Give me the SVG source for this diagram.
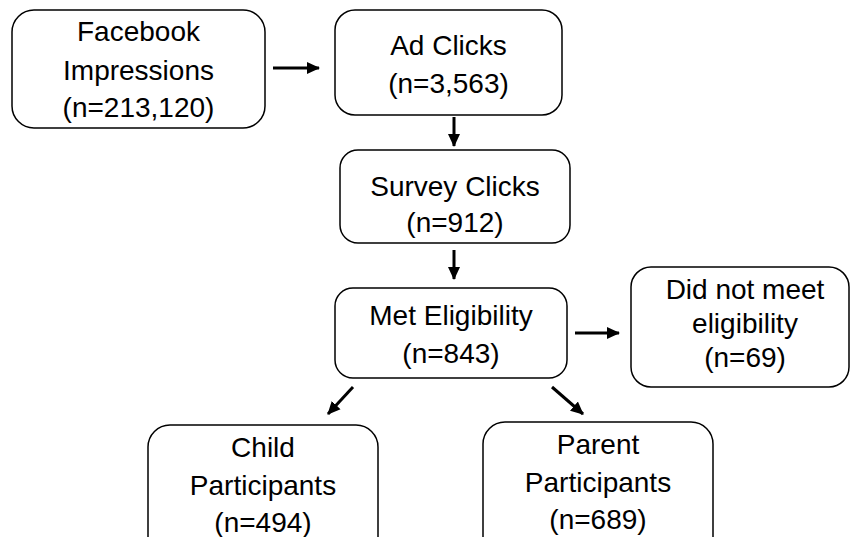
<svg xmlns="http://www.w3.org/2000/svg" width="851" height="537" viewBox="0 0 851 537">
<style>
.box{fill:#fff;stroke:#000;stroke-width:1.5}
.t{font-family:"Liberation Sans",Arial,sans-serif;font-size:28px;fill:#000;text-anchor:middle}
.c{stroke:#000;stroke-width:3;fill:none}
</style>
<defs>
<marker id="ah" markerUnits="userSpaceOnUse" markerWidth="14" markerHeight="14" refX="12" refY="7" orient="auto">
<path d="M0,1 L13,7 L0,13 Z" fill="#000"/>
</marker>
</defs>
<rect width="851" height="537" fill="#fff"/>
<g id="connectors">
<line class="c" x1="273" y1="68" x2="319" y2="68" marker-end="url(#ah)"/>
<line class="c" x1="454" y1="117" x2="454" y2="146" marker-end="url(#ah)"/>
<line class="c" x1="454" y1="250" x2="454" y2="279" marker-end="url(#ah)"/>
<line class="c" x1="575" y1="333" x2="619" y2="333" marker-end="url(#ah)"/>
<line class="c" x1="353" y1="387" x2="328" y2="414" marker-end="url(#ah)"/>
<line class="c" x1="552" y1="387" x2="583" y2="414" marker-end="url(#ah)"/>
</g>
<g id="facebook">
<rect class="box" x="12" y="10" width="253" height="118" rx="22"/>
<text class="t" x="138.5" y="41">Facebook</text>
<text class="t" x="138.5" y="80">Impressions</text>
<text class="t" x="138.5" y="117">(n=213,120)</text>
</g>
<g id="adclicks">
<rect class="box" x="335" y="10" width="227" height="105" rx="20"/>
<text class="t" x="448.5" y="55">Ad Clicks</text>
<text class="t" x="448.5" y="93">(n=3,563)</text>
</g>
<g id="surveyclicks">
<rect class="box" x="340" y="150" width="230" height="93" rx="18"/>
<text class="t" x="455" y="196">Survey Clicks</text>
<text class="t" x="455" y="232">(n=912)</text>
</g>
<g id="met">
<rect class="box" x="335" y="288" width="232" height="90" rx="18"/>
<text class="t" x="451" y="325">Met Eligibility</text>
<text class="t" x="451" y="363">(n=843)</text>
</g>
<g id="notmet">
<rect class="box" x="631" y="267" width="218" height="120" rx="20"/>
<text class="t" x="745" y="299">Did not meet</text>
<text class="t" x="745" y="333">eligibility</text>
<text class="t" x="745" y="367">(n=69)</text>
</g>
<g id="child">
<rect class="box" x="148" y="425" width="230" height="140" rx="22"/>
<text class="t" x="263" y="457">Child</text>
<text class="t" x="263" y="495">Participants</text>
<text class="t" x="263" y="532">(n=494)</text>
</g>
<g id="parent">
<rect class="box" x="483" y="422" width="230" height="140" rx="22"/>
<text class="t" x="598" y="454">Parent</text>
<text class="t" x="598" y="492">Participants</text>
<text class="t" x="598" y="529">(n=689)</text>
</g>
</svg>
